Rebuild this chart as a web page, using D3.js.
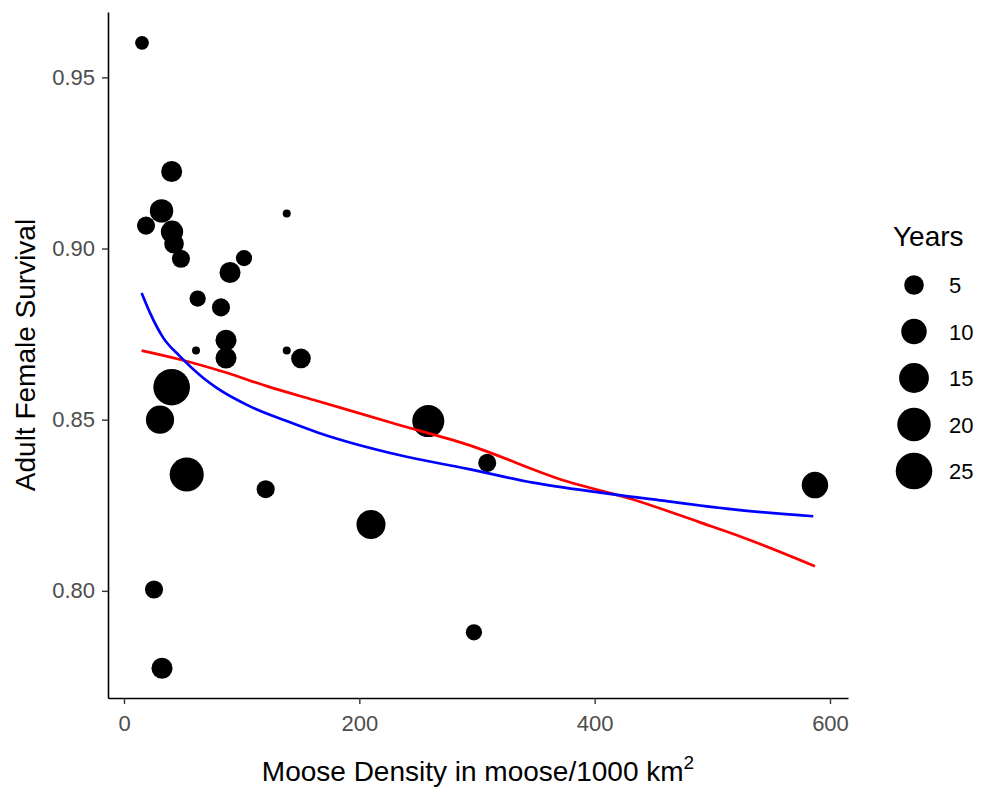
<!DOCTYPE html>
<html>
<head>
<meta charset="utf-8">
<script src="https://cdn.jsdelivr.net/npm/d3@7"></script>
<style>
  html, body { margin: 0; padding: 0; background: #fff; }
  svg { display: block; }
  text { font-family: "Liberation Sans", Arial, sans-serif; }
</style>
</head>
<body>
<svg id="chart" width="984" height="787"></svg>
<script>
// ---- data ----
const density  = [15.3, 40.5, 31.9, 18.7, 40.8, 42.5, 48.4, 102.0, 90.1, 138.3, 62.6, 82.4, 86.7, 61.2, 86.7, 138.3, 150.4, 40.5, 30.6, 53.3, 120.4, 209.9, 258.6, 308.7, 587.2, 297.4, 25.5, 32.3];
const survival = [0.9601, 0.9225, 0.9110, 0.9067, 0.9049, 0.9014, 0.8970, 0.8972, 0.8930, 0.9102, 0.8854, 0.8828, 0.8732, 0.8702, 0.8680, 0.8702, 0.8679, 0.8595, 0.8500, 0.8340, 0.8297, 0.8194, 0.8496, 0.8374, 0.8309, 0.7879, 0.8004, 0.7774];
const years    = [2, 6, 8, 4, 7, 5, 4, 3, 6, 1, 3, 4, 6, 1, 6, 1, 5, 25, 13, 21, 4, 14, 18, 4, 11, 3, 4, 6];

// linear-ish fit (red)
const redX = [15.0, 47.6, 87.3, 121.3, 165.1, 234.6, 291.2, 376.2, 432.6, 489.5, 526.0, 587.2];
const redY = [0.8702, 0.8676, 0.8637, 0.8598, 0.8554, 0.8484, 0.8428, 0.8320, 0.8267, 0.8200, 0.8156, 0.8072];
// smooth fit (blue)
const blueX = [15.0, 22.1, 33.4, 47.6, 67.4, 78.8, 107.1, 138.3, 165.1, 234.6, 291.2, 347.6, 404.5, 461.2, 517.6, 585.8];
const blueY = [0.8870, 0.8812, 0.8739, 0.8685, 0.8622, 0.8593, 0.8539, 0.8496, 0.8462, 0.8396, 0.8357, 0.8316, 0.8287, 0.8262, 0.8238, 0.8218];

const xTicks = [0, 200, 400, 600];
const yTicks = [0.80, 0.85, 0.90, 0.95];
const legendYears = [5, 10, 15, 20, 25];

// ---- layout ----
const svg = d3.select("#chart");
const pL = 108, pR = 848, pT = 12, pB = 698;

const x = d3.scaleLinear().domain([-13.6, 615.3]).range([pL, pR]);
const y = d3.scaleLinear().domain([0.7687, 0.9691]).range([pB, pT]);
const minYr = 1, maxYr = 25;
const rs = d3.scaleSqrt().domain([0, maxYr - minYr]).range([4, 18.3]);
const rad = v => rs(v - minYr);

// axes
const yAxis = svg.append("g").attr("transform", `translate(${pL},0)`)
  .call(d3.axisLeft(y).tickValues(yTicks).tickFormat(d3.format(".2f")).tickSize(6).tickPadding(7).tickSizeOuter(0));
const xAxis = svg.append("g").attr("transform", `translate(0,${pB})`)
  .call(d3.axisBottom(x).tickValues(xTicks).tickFormat(d3.format("d")).tickSize(6).tickPadding(11).tickSizeOuter(0));

[yAxis, xAxis].forEach(g => {
  g.select(".domain").attr("stroke", "#000").attr("stroke-width", 1.6);
  g.selectAll(".tick line").attr("stroke", "#333").attr("stroke-width", 1.4);
  g.selectAll(".tick text").attr("fill", "#4D4D4D").style("font-size", "22px")
    .style("font-family", "'Liberation Sans', Arial, sans-serif");
});

// points
svg.append("g").selectAll("circle")
  .data(density.map((d, i) => ({ x: d, y: survival[i], n: years[i] })))
  .join("circle")
  .attr("cx", d => x(d.x))
  .attr("cy", d => y(d.y))
  .attr("r", d => rad(d.n))
  .attr("fill", "#000");

// lines
const line = d3.line().x(d => x(d[0])).y(d => y(d[1])).curve(d3.curveMonotoneX);
svg.append("path")
  .datum(redX.map((d, i) => [d, redY[i]]))
  .attr("d", line).attr("fill", "none").attr("stroke", "#FF0000").attr("stroke-width", 2.7);
svg.append("path")
  .datum(blueX.map((d, i) => [d, blueY[i]]))
  .attr("d", line).attr("fill", "none").attr("stroke", "#0000FF").attr("stroke-width", 2.7);

// axis titles
svg.append("text")
  .attr("transform", `translate(35,${(pT + pB) / 2}) rotate(-90)`)
  .attr("text-anchor", "middle")
  .style("font-size", "28px").attr("fill", "#000")
  .text("Adult Female Survival");

const xt = svg.append("text")
  .attr("x", (pL + pR) / 2).attr("y", 781)
  .attr("text-anchor", "middle")
  .style("font-size", "28px").attr("fill", "#000");
xt.append("tspan").text("Moose Density in moose/1000 km");
xt.append("tspan").attr("dy", -12).style("font-size", "19px").text("2");

// legend
const lg = svg.append("g");
lg.append("text").attr("x", 893).attr("y", 246).style("font-size", "28px").attr("fill", "#000").text("Years");
const ly = d3.scalePoint().domain(legendYears).range([285, 471]);
lg.selectAll("circle").data(legendYears).join("circle")
  .attr("cx", 914).attr("cy", d => ly(d)).attr("r", d => rad(d)).attr("fill", "#000");
lg.selectAll("text.lab").data(legendYears).join("text").attr("class", "lab")
  .attr("x", 949).attr("y", d => ly(d) + 8)
  .style("font-size", "22px").attr("fill", "#000").text(d => d);
</script>
</body>
</html>
